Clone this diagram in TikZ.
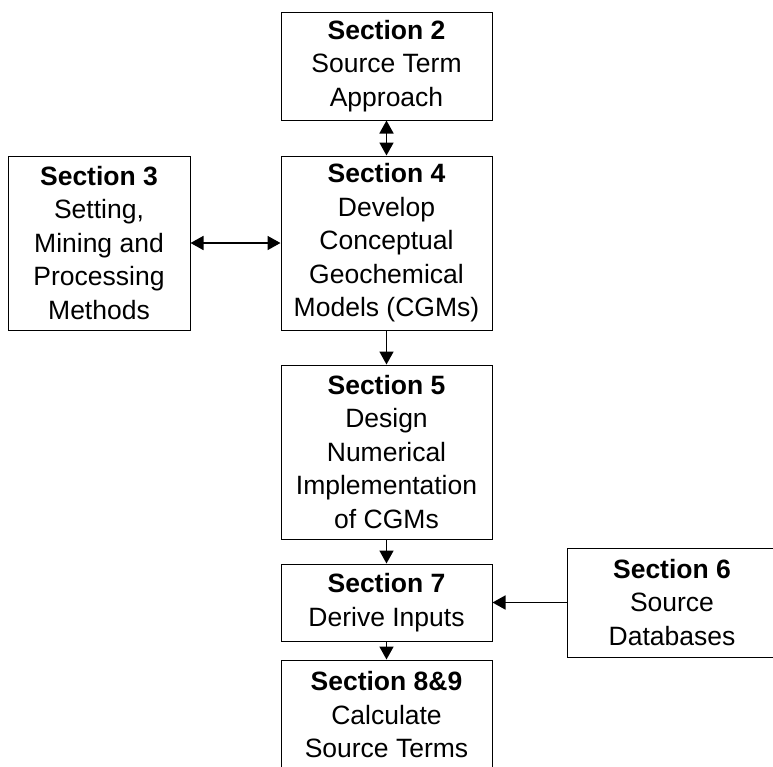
\documentclass[tikz,border=0pt]{standalone}
\usepackage{fontspec}
\setmainfont{Liberation Sans}
\usetikzlibrary{arrows.meta}

\begin{document}
\begin{tikzpicture}[x=1pt,y=-1pt,
        sec/.style={draw,line width=1pt,align=center,inner sep=0pt,font=\fontsize{26.5}{33.5}\selectfont},
        link/.style={line width=1.7pt,>={Triangle[length=13pt,width=14pt]}}]
        \clip (0,0) rectangle (773,766);
        \node[sec,minimum width=211,minimum height=108] at (386.5,66) (sec2) {\textbf{Section 2}\\Source Term\\Approach};
        \node[sec,minimum width=211,minimum height=174] at (386.5,243) (sec4) {\textbf{Section 4}\\Develop\\Conceptual\\Geochemical\\Models (CGMs)};
        \node[sec,minimum width=182,minimum height=174] at (99,243) (sec3) {\textbf{Section 3}\\Setting,\\Mining and\\Processing\\Methods};
        \node[sec,minimum width=211,minimum height=174] at (386.5,452) (sec5) {\textbf{Section 5}\\Design\\Numerical\\Implementation\\of CGMs};
        \node[sec,minimum width=211,minimum height=77] at (386.5,602.5) (sec7) {\textbf{Section 7}\\Derive Inputs};
        \node[sec,minimum width=210,minimum height=109] at (672,602.5) (sec6) {\textbf{Section 6}\\Source\\Databases};
        \node[sec,minimum width=211,minimum height=110] at (386.5,715) (sec89) {\textbf{Section 8\&9}\\Calculate\\Source Terms};
        \draw[link,<->] (sec2) -- (sec4);
        \draw[link,<->] (sec3) -- (sec4);
        \draw[link,->] (sec4) -- (sec5);
        \draw[link,->] (sec5) -- (sec7);
        \draw[link,->] (sec6) -- (sec7);
        \draw[link,->] (sec7) -- (sec89);
\end{tikzpicture}
\end{document}
